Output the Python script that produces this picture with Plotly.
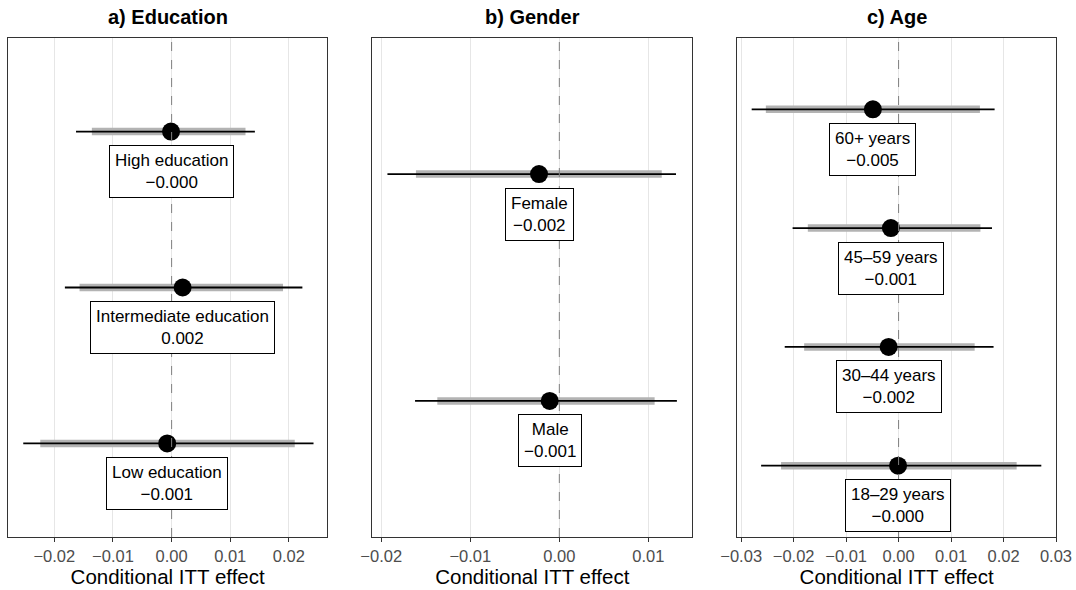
import plotly.graph_objects as go

# ---- data: conditional ITT effects with 90% (inner) and 95% (outer) intervals ----
edu_groups = ["Low education", "Intermediate education", "High education"]
edu_est = [-0.00075, 0.00188, -0.0001]
edu_lo95 = [-0.0253, -0.0182, -0.0163]
edu_hi95 = [0.0242, 0.0223, 0.0142]
edu_lo90 = [-0.0224, -0.0157, -0.0136]
edu_hi90 = [0.0210, 0.0190, 0.0126]

gen_groups = ["Male", "Female"]
gen_est = [-0.00108, -0.00228]
gen_lo95 = [-0.0162, -0.0193]
gen_hi95 = [0.0132, 0.0131]
gen_lo90 = [-0.0137, -0.0161]
gen_hi90 = [0.0107, 0.0115]

age_groups = ["18–29 years", "30–44 years", "45–59 years", "60+ years"]
age_est = [-0.0001, -0.0019, -0.00147, -0.0049]
age_lo95 = [-0.0262, -0.0217, -0.0202, -0.0280]
age_hi95 = [0.0272, 0.0181, 0.0178, 0.0183]
age_lo90 = [-0.0224, -0.0180, -0.0173, -0.0253]
age_hi90 = [0.0225, 0.0145, 0.0156, 0.0155]

panel_titles = ["a) Education", "b) Gender", "c) Age"]
x_ranges = [[-0.0279, 0.02655], [-0.0210, 0.01493], [-0.03074, 0.0300]]
x_domains = [[8 / 1076, 327.3 / 1076], [372.3 / 1076, 692.3 / 1076], [737.3 / 1076, 1056 / 1076]]
y_domain = [1 - 537 / 590, 1 - 38 / 590]

panels = [
    (edu_groups, edu_est, edu_lo95, edu_hi95, edu_lo90, edu_hi90),
    (gen_groups, gen_est, gen_lo95, gen_hi95, gen_lo90, gen_hi90),
    (age_groups, age_est, age_lo95, age_hi95, age_lo90, age_hi90),
]

FONT = "Liberation Sans, Arial, Helvetica, sans-serif"
fig = go.Figure()
annotations = []
shapes = []


def fmt(v):
    return f"{v:.3f}".replace("-", "\u2212")


for i, (groups, est, lo95, hi95, lo90, hi90) in enumerate(panels):
    k = "" if i == 0 else str(i + 1)
    xa, ya = "x" + k, "y" + k

    # inner interval: thick grey bar
    xs, ys = [], []
    for g, a, b in zip(groups, lo90, hi90):
        xs += [a, b, None]
        ys += [g, g, None]
    fig.add_trace(go.Scatter(x=xs, y=ys, mode="lines", xaxis=xa, yaxis=ya,
                             line=dict(color="#b3b3b3", width=7.5), hoverinfo="skip",
                             showlegend=False))
    # outer interval: thin black line
    xs, ys = [], []
    for g, a, b in zip(groups, lo95, hi95):
        xs += [a, b, None]
        ys += [g, g, None]
    fig.add_trace(go.Scatter(x=xs, y=ys, mode="lines", xaxis=xa, yaxis=ya,
                             line=dict(color="black", width=1.8), hoverinfo="skip",
                             showlegend=False))
    # point estimates
    fig.add_trace(go.Scatter(x=est, y=groups, mode="markers", xaxis=xa, yaxis=ya,
                             marker=dict(color="black", size=18), showlegend=False))

    n = len(groups)
    fig.layout["xaxis" + k] = dict(
        domain=x_domains[i], range=x_ranges[i], anchor=ya,
        dtick=0.01, tick0=0, tickformat=".2f",
        showgrid=True, gridcolor="#e6e6e6", gridwidth=1.3, zeroline=False,
        showline=True, linecolor="#333333", linewidth=1, mirror=True,
        ticks="outside", ticklen=4, tickcolor="#333333",
        tickfont=dict(size=16.5, color="#4d4d4d", family=FONT),
        title=dict(text="Conditional ITT effect", standoff=5,
                   font=dict(size=20.5, color="black", family=FONT)),
        automargin=False,
    )
    fig.layout["yaxis" + k] = dict(
        domain=y_domain, anchor=xa, type="category",
        categoryorder="array", categoryarray=groups,
        range=[-0.6, n - 0.4], showticklabels=False, ticks="",
        showgrid=False, zeroline=False,
        showline=True, linecolor="#333333", linewidth=1, mirror=True,
        automargin=False,
    )

    # dashed reference line at zero
    shapes.append(dict(type="line", xref=xa, yref=ya + " domain", x0=0, x1=0, y0=0, y1=1,
                       line=dict(color="#7f7f7f", width=1, dash="dash"), layer="above"))

    # group labels below each estimate
    for g, v in zip(groups, est):
        annotations.append(dict(
            x=v, y=g, xref=xa, yref=ya, text=f"{g}<br>{fmt(v)}", showarrow=False,
            yshift=-40, xanchor="center", yanchor="middle",
            font=dict(size=17, color="black", family=FONT),
            bgcolor="white", bordercolor="black", borderwidth=1, borderpad=5,
        ))

    # panel title
    annotations.append(dict(
        x=(x_domains[i][0] + x_domains[i][1]) / 2, y=1 - 17 / 590,
        xref="paper", yref="paper", text=f"<b>{panel_titles[i]}</b>", showarrow=False,
        xanchor="center", yanchor="middle",
        font=dict(size=20, color="black", family=FONT),
    ))

fig.update_layout(
    width=1076, height=590,
    margin=dict(l=0, r=0, t=0, b=0),
    paper_bgcolor="white", plot_bgcolor="white",
    font=dict(family=FONT),
    annotations=annotations, shapes=shapes,
    showlegend=False,
)

fig.write_html("out.html")
